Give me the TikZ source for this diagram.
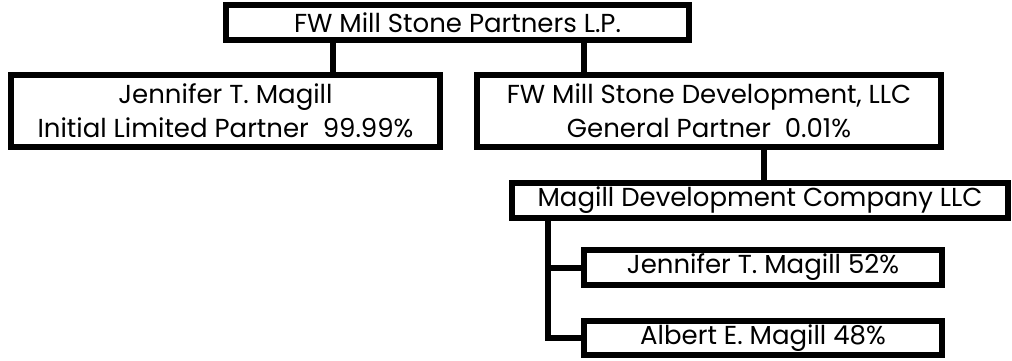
\documentclass[tikz,border=0pt]{standalone}
\usepackage{fontspec}
\setmainfont{Poppins}
\usepackage{tikz}
\usetikzlibrary{positioning}

\begin{document}
\begin{tikzpicture}[x=1pt, y=-1pt,
  entity/.style={draw, line width=6pt, inner sep=0pt, align=center,
    font=\fontsize{26}{34}\selectfont},
  link/.style={line width=6pt}]
\useasboundingbox (0,0) rectangle (1012,360);
\node[entity, minimum width=463pt, minimum height=35pt] (lp) at (457.5,22.5) {FW Mill Stone Partners L.P.};
\node[entity, minimum width=429pt, minimum height=72pt] (ilp) at (225.5,111) {Jennifer T. Magill\\Initial Limited Partner\ \ 99.99\%};
\node[entity, minimum width=464pt, minimum height=72pt] (gp) at (709,111) {FW Mill Stone Development, LLC\\General Partner\ \ 0.01\%};
\node[entity, minimum width=496pt, minimum height=35pt] (mdc) at (760,200.5) {Magill Development Company LLC};
\node[entity, minimum width=358pt, minimum height=35pt] (jtm) at (763,267.5) {Jennifer T. Magill 52\%};
\node[entity, minimum width=358pt, minimum height=34pt] (aem) at (763,338) {Albert E. Magill 48\%};
\path[link]
([xshift=-124.5pt]lp.south) edge ([xshift=107.5pt]ilp.north)
([xshift=126.5pt]lp.south) edge ([xshift=-125pt]gp.north)
([xshift=55pt]gp.south) edge ([xshift=4pt]mdc.north);
\draw[link] ([xshift=-212pt]mdc.south) |- (jtm.west);
\draw[link] ([xshift=-212pt]mdc.south) |- (aem.west);
\end{tikzpicture}
\end{document}
